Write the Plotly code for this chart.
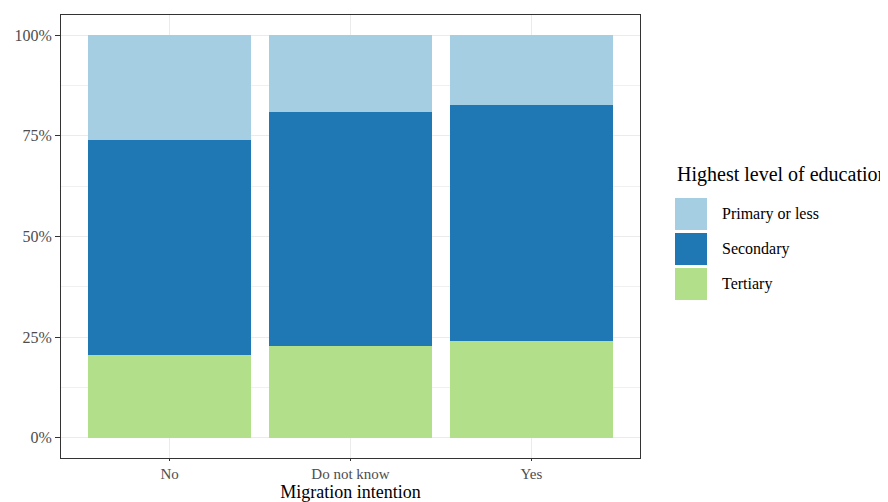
import plotly.graph_objects as go

categories = ["No", "Do not know", "Yes"]
education_levels = ["Primary or less", "Secondary", "Tertiary"]
primary = [26.1, 19.0, 17.4]
secondary = [53.2, 58.2, 58.6]
tertiary = [20.7, 22.8, 24.0]
y_ticks = [0, 25, 50, 75, 100]
y_tick_labels = ["0%", "25%", "50%", "75%", "100%"]
colors = {"Primary or less": "#a6cee3", "Secondary": "#1f78b4", "Tertiary": "#b2df8a"}

# page body has an 8px margin, so work in shifted pixel coordinates
OFF = 8
W, H = 888 - OFF, 502 - OFF
L, R, T, B = 61 - OFF, 640 - OFF, 15 - OFF, 458 - OFF
FONT = "Liberation Serif"

fig = go.Figure()
# stack order: Tertiary bottom, Secondary middle, Primary top
for name, vals in [("Tertiary", tertiary), ("Secondary", secondary), ("Primary or less", primary)]:
    fig.add_trace(go.Bar(x=categories, y=vals, name=name, marker_color=colors[name],
                         marker_line_width=0, width=0.9, showlegend=False))

def px_x(p):
    return (p - OFF - L) / (R - L)

def px_y(p):
    return (B - (p - OFF)) / (B - T)

shapes = []
annotations = []
annotations.append(dict(text="Highest level of education", x=px_x(675), y=px_y(175), xref="paper", yref="paper",
                        xanchor="left", yanchor="middle", showarrow=False,
                        font=dict(family=FONT, size=20, color="black")))
key_tops = [198, 233, 268]
for lvl, top in zip(education_levels, key_tops):
    shapes.append(dict(type="rect", xref="paper", yref="paper", x0=px_x(675), x1=px_x(707),
                       y0=px_y(top + 32), y1=px_y(top), fillcolor=colors[lvl], line_width=0, layer="above"))
    annotations.append(dict(text=lvl, x=px_x(720), y=px_y(top + 16), xref="paper", yref="paper",
                            xanchor="left", yanchor="middle", showarrow=False,
                            font=dict(family=FONT, size=16, color="black")))

fig.update_layout(
    barmode="stack",
    width=W, height=H,
    margin=dict(l=L, r=W - R, t=T, b=H - B, autoexpand=False),
    paper_bgcolor="white", plot_bgcolor="white",
    font=dict(family=FONT, size=16, color="#4d4d4d"),
    shapes=shapes, annotations=annotations,
    bargap=0.1,
)
fig.update_xaxes(
    range=[-0.6, 2.6], showgrid=True, gridcolor="#ebebeb", gridwidth=1,
    showline=True, linecolor="#333333", linewidth=1, mirror=True,
    ticks="outside", ticklen=2, tickcolor="#333333",
    tickfont=dict(family=FONT, size=15, color="#4d4d4d"),
    title=dict(text="Migration intention", font=dict(family=FONT, size=18, color="black"), standoff=8),
    zeroline=False, automargin=False,
)
fig.update_yaxes(
    range=[-5, 105], tickvals=y_ticks, ticktext=y_tick_labels,
    showgrid=True, gridcolor="#ebebeb", gridwidth=1,
    minor=dict(tickvals=[12.5, 37.5, 62.5, 87.5], showgrid=True, gridcolor="#f0f0f0", gridwidth=0.8, ticks=""),
    showline=True, linecolor="#333333", linewidth=1, mirror=True,
    ticks="outside", ticklen=5, tickcolor="#333333",
    tickfont=dict(family=FONT, size=16, color="#4d4d4d"),
    zeroline=False, automargin=False,
)

fig.write_html("out.html")
